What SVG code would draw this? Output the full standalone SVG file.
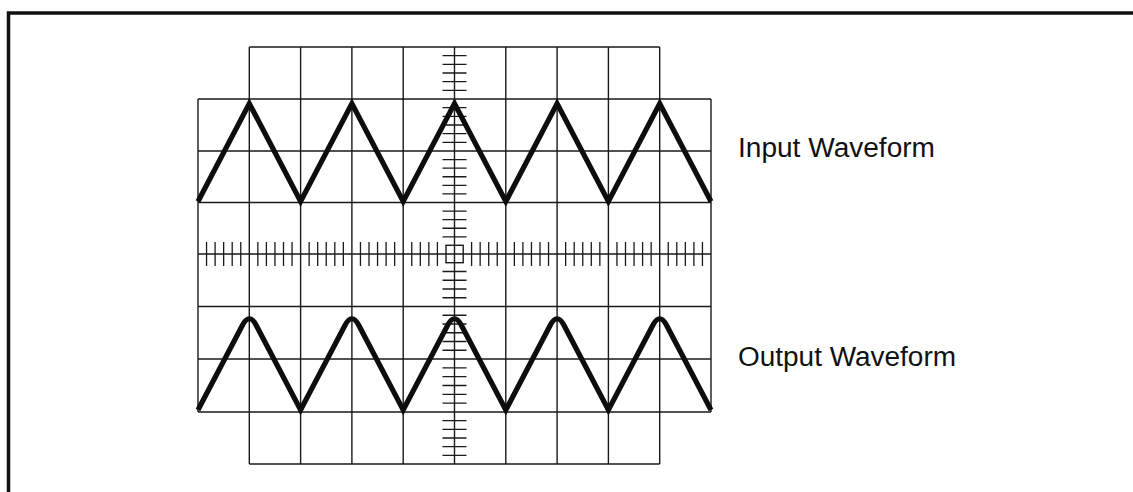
<svg xmlns="http://www.w3.org/2000/svg" width="1133" height="492" viewBox="0 0 1133 492">
<style>
.frame{fill:none;stroke:#111;stroke-width:3.5}
.grid{fill:none;stroke:#1a1a1a;stroke-width:1.4}
.tick{fill:none;stroke:#1a1a1a;stroke-width:1.3}
.wave{fill:none;stroke:#0d0d0d;stroke-width:5.2;stroke-linecap:butt;stroke-linejoin:miter}
.label{font-family:"Liberation Sans",Arial,Helvetica,sans-serif;font-size:27px;fill:#111}
</style>
<rect width="1133" height="492" fill="#fff"/>
<g id="frame">
<path class="frame" d="M8.5 500V13H1140"/>
</g>
<g id="graticule">
<path class="grid" d="M249.3 47H659.7M198 99H711M198 151H711M198 202.5H711M198 254H711M198 306.5H711M198 359H711M198 412H711M249.3 464H659.7M198 99V412M711 99V412M249.3 47V464M300.6 47V464M351.9 47V464M403.2 47V464M454.5 47V464M505.8 47V464M557.1 47V464M608.4 47V464M659.7 47V464"/>
<path class="tick" d="M206.55 242v24M215.1 242v24M223.65 242v24M232.2 242v24M240.75 242v24M257.85 242v24M266.4 242v24M274.95 242v24M283.5 242v24M292.05 242v24M309.15 242v24M317.7 242v24M326.25 242v24M334.8 242v24M343.35 242v24M360.45 242v24M369 242v24M377.55 242v24M386.1 242v24M394.65 242v24M411.75 242v24M420.3 242v24M428.85 242v24M437.4 242v24M471.6 242v24M480.15 242v24M488.7 242v24M497.25 242v24M514.35 242v24M522.9 242v24M531.45 242v24M540 242v24M548.55 242v24M565.65 242v24M574.2 242v24M582.75 242v24M591.3 242v24M599.85 242v24M616.95 242v24M625.5 242v24M634.05 242v24M642.6 242v24M651.15 242v24M668.25 242v24M676.8 242v24M685.35 242v24M693.9 242v24M702.45 242v24"/>
<path class="tick" d="M442.5 55.67h24M442.5 64.33h24M442.5 73h24M442.5 81.67h24M442.5 90.33h24M442.5 107.67h24M442.5 116.33h24M442.5 125h24M442.5 133.67h24M442.5 142.33h24M442.5 159.58h24M442.5 168.17h24M442.5 176.75h24M442.5 185.33h24M442.5 193.92h24M442.5 211.08h24M442.5 219.67h24M442.5 228.25h24M442.5 236.83h24M442.5 271.5h24M442.5 280.25h24M442.5 289h24M442.5 297.75h24M442.5 315.25h24M442.5 324h24M442.5 332.75h24M442.5 341.5h24M442.5 350.25h24M442.5 367.83h24M442.5 376.67h24M442.5 385.5h24M442.5 394.33h24M442.5 403.17h24M442.5 420.67h24M442.5 429.33h24M442.5 438h24M442.5 446.67h24M442.5 455.33h24"/>
<rect class="grid" x="446" y="245.3" width="17.2" height="17.4"/>
</g>
<g id="input-waveform">
<path class="wave" d="M198 201.5L249.3 103.5L300.6 201.5L351.9 103.5L403.2 201.5L454.5 103.5L505.8 201.5L557.1 103.5L608.4 201.5L659.7 103.5L711 201.5"/>
</g>
<g id="output-waveform">
<path class="wave" d="M198 410L242.3 325.5Q249.3 312 256.3 325.5L300.6 410L344.9 325.5Q351.9 312 358.9 325.5L403.2 410L447.5 325.5Q454.5 312 461.5 325.5L505.8 410L550.1 325.5Q557.1 312 564.1 325.5L608.4 410L652.7 325.5Q659.7 312 666.7 325.5L711 410"/>
</g>
<g id="input-label">
<text class="label" x="738" y="157.3" textLength="197" lengthAdjust="spacingAndGlyphs">Input Waveform</text>
</g>
<g id="output-label">
<text class="label" x="738" y="366" textLength="218" lengthAdjust="spacingAndGlyphs">Output Waveform</text>
</g>
</svg>
